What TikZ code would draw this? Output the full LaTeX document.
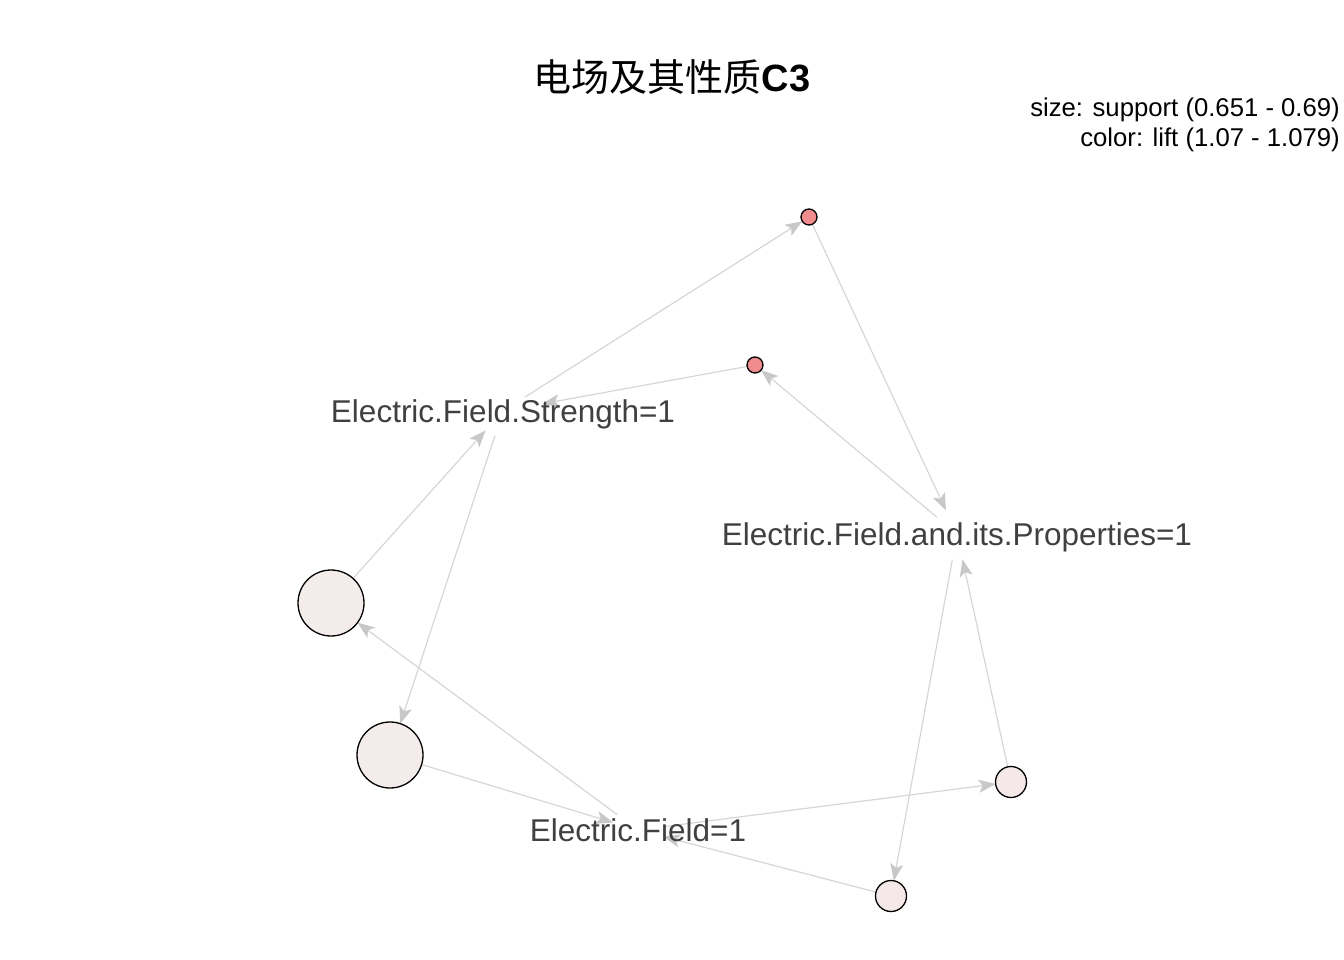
\documentclass[tikz,border=0pt]{standalone}
\usepackage{fontspec}
\setmainfont{Liberation Sans}
\newfontfamily\cjk{Noto Sans CJK SC}
\usetikzlibrary{arrows.meta,backgrounds}
\definecolor{edgegray}{RGB}{214,214,214}
\definecolor{tipgray}{RGB}{200,200,200}
\definecolor{lblgray}{RGB}{64,64,64}
\definecolor{redfill}{RGB}{240,140,140}
\definecolor{palefill}{RGB}{243,236,234}
\definecolor{pinkfill}{RGB}{245,232,232}
\tikzset{
 vtx/.style={circle, draw=black, line width=1.3pt, inner sep=0pt, outer sep=0pt},
 edge/.style={draw=edgegray, line width=1.2pt, -{Stealth[length=17pt,width=13pt,inset=4pt,color=tipgray]}},
 itemlbl/.style={inner sep=0pt, text=lblgray, font=\fontsize{31.5}{36}\selectfont, text height=22.5pt, text depth=0pt},
 legendtxt/.style={inner sep=0pt, anchor=base east, font=\fontsize{25.7}{30}\selectfont},
}
\begin{document}
\begin{tikzpicture}[x=1pt,y=-1pt]
\useasboundingbox (0,0) rectangle (1344,960);
% title and legend
\node[anchor=base, inner sep=0pt, font=\fontsize{38}{44}\selectfont] (title) at (672,92) {{\cjk 电场及其性质}\textbf{C3}};
\node[legendtxt] (leg1) at (1340,117) {size: support (0.651 - 0.69)};
\node[legendtxt] (leg2) at (1340,147) {color: lift (1.07 - 1.079)};
% rule vertices
\node[vtx, fill=redfill, minimum size=16pt] (r1) at (809,217) {};
\node[vtx, fill=redfill, minimum size=16pt] (r2) at (755,365) {};
\node[vtx, fill=palefill, minimum size=66pt] (va) at (331,603) {};
\node[vtx, fill=palefill, minimum size=66pt] (vb) at (390,755) {};
\node[vtx, fill=pinkfill, minimum size=31pt] (vc) at (1011,782) {};
\node[vtx, fill=pinkfill, minimum size=31pt] (vd) at (891,896) {};
% item labels
\node[itemlbl] (fs) at (503,411) {Electric.Field.Strength=1};
\node[itemlbl] (fp) at (957,534) {Electric.Field.and.its.Properties=1};
\node[itemlbl] (ff) at (638,830) {Electric.Field=1};
% edges
\begin{pgfonlayer}{background}
\draw[edge, shorten <=26pt] (fs.center) -- (r1);
\draw[edge, shorten >=40pt] (r2) -- (fs.center);
\draw[edge, shorten >=26pt] (r1) -- (fp.center);
\draw[edge, shorten <=26pt] (fp.center) -- (r2);
\draw[edge, shorten >=26pt] (va) -- (fs.center);
\draw[edge, shorten <=26pt] (fs.center) -- (vb);
\draw[edge, shorten <=26pt] (ff.center) -- (va);
\draw[edge, shorten >=26pt] (vb) -- (ff.center);
\draw[edge, shorten <=26pt] (ff.center) -- (vc);
\draw[edge, shorten >=26pt] (vd) -- (ff.center);
\draw[edge, shorten <=26pt] (fp.center) -- (vd);
\draw[edge, shorten >=26pt] (vc) -- (fp.center);
\end{pgfonlayer}
\end{tikzpicture}
\end{document}
